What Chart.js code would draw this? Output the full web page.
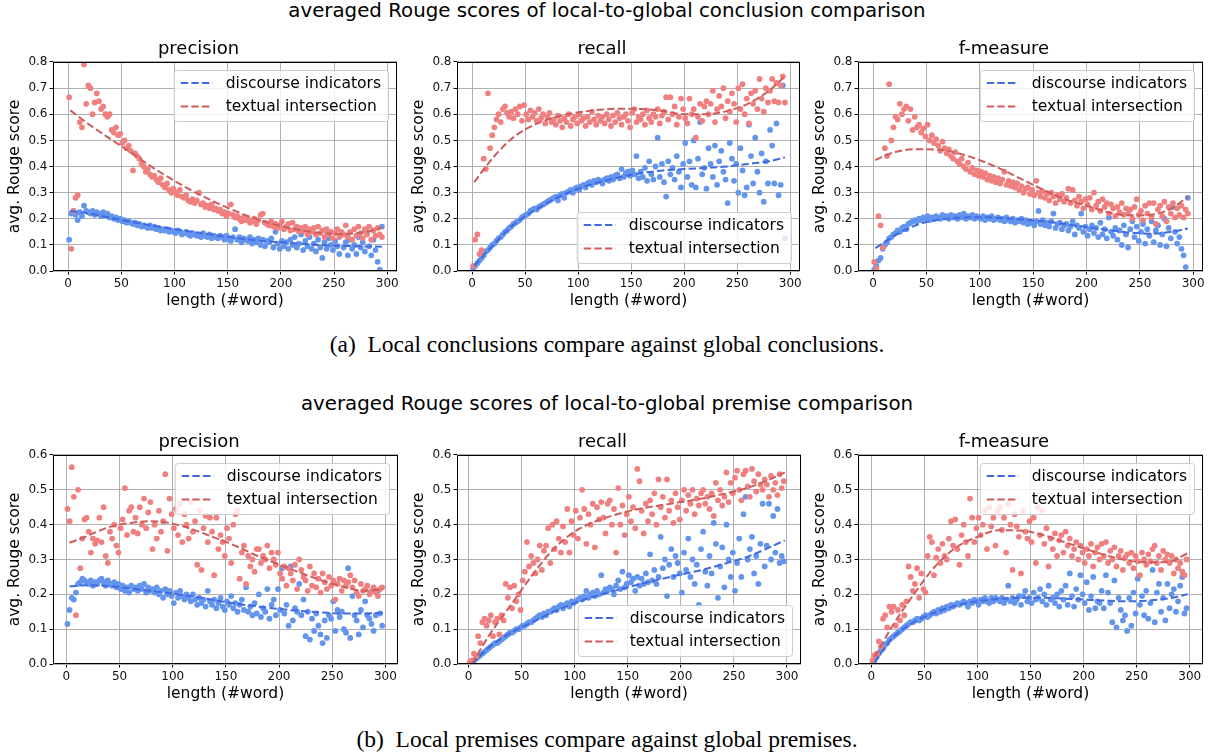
<!DOCTYPE html>
<html>
<head>
<meta charset="utf-8">
<script src="https://cdn.jsdelivr.net/npm/chart.js@4/dist/chart.umd.min.js"></script>
<style>
body { margin: 0; background: #fff; }
#fig { position: relative; width: 1214px; height: 754px; overflow: hidden; font-family: 'DejaVu Sans', sans-serif; color: #000; }
.sup { position: absolute; left: 0; width: 1214px; text-align: center; font-size: 19.8px; line-height: 24px; white-space: nowrap; }
.cap { position: absolute; left: 0; width: 1214px; text-align: center; font-family: 'Liberation Serif', serif; font-size: 23.5px; line-height: 28px; white-space: nowrap; }
canvas { position: absolute; }
</style>
</head>
<body>
<div id="fig">
  <div class="sup" style="top:-1px">averaged Rouge scores of local-to-global conclusion comparison</div>
  <canvas id="c0"></canvas>
  <canvas id="c1"></canvas>
  <canvas id="c2"></canvas>
  <div class="cap" style="top:330px">(a)&nbsp; Local conclusions compare against global conclusions.</div>
  <div class="sup" style="top:392px">averaged Rouge scores of local-to-global premise comparison</div>
  <canvas id="c3"></canvas>
  <canvas id="c4"></canvas>
  <canvas id="c5"></canvas>
  <div class="cap" style="top:725px">(b)&nbsp; Local premises compare against global premises.</div>
</div>
<script>
// 文の長さ (#word)
const lengths = [
  1,3,5,7,9,11,13,15,17,19,
  21,23,25,27,29,31,33,35,37,39,
  41,43,45,47,49,51,53,55,57,59,
  61,63,65,67,69,71,73,75,77,79,
  81,83,85,87,89,91,93,95,97,99,
  101,103,105,107,109,111,113,115,117,119,
  121,123,125,127,129,131,133,135,137,139,
  141,143,145,147,149,151,153,155,157,159,
  161,163,165,167,169,171,173,175,177,179,
  181,183,185,187,189,191,193,195,197,199,
  201,203,205,207,209,211,213,215,217,219,
  221,223,225,227,229,231,233,235,237,239,
  241,243,245,247,249,251,253,255,257,259,
  261,263,265,267,269,271,273,275,277,279,
  281,283,285,287,289,291,293,295,297
];

// (a) conclusion
const precConcDisc = [
  0.12,0.22,0.23,0.215,0.195,0.225,0.21,0.25,0.23,0.225,
  0.22,0.23,0.215,0.225,0.22,0.21,0.225,0.215,0.22,0.205,
  0.21,0.20,0.205,0.195,0.20,0.19,0.195,0.185,0.19,0.185,
  0.18,0.185,0.175,0.18,0.17,0.175,0.17,0.165,0.175,0.165,
  0.17,0.16,0.165,0.155,0.16,0.155,0.16,0.15,0.155,0.15,
  0.145,0.155,0.15,0.14,0.145,0.15,0.14,0.135,0.145,0.14,
  0.135,0.14,0.13,0.145,0.135,0.13,0.14,0.125,0.135,0.13,
  0.125,0.135,0.13,0.12,0.135,0.125,0.115,0.13,0.16,0.12,
  0.13,0.11,0.125,0.12,0.115,0.13,0.105,0.12,0.11,0.125,
  0.10,0.12,0.095,0.115,0.11,0.125,0.09,0.15,0.105,0.085,
  0.115,0.095,0.11,0.085,0.12,0.10,0.13,0.09,0.105,0.14,
  0.08,0.115,0.095,0.13,0.085,0.105,0.075,0.12,0.09,0.05,
  0.11,0.085,0.125,0.10,0.08,0.115,0.095,0.065,0.14,0.09,
  0.11,0.06,0.12,0.085,0.10,0.065,0.13,0.09,0.11,0.075,
  0.15,0.095,0.06,0.12,0.08,0.035,0.005,0.17,null
];
const precConcText = [
  0.665,0.085,0.23,0.28,0.29,0.57,0.55,0.79,0.64,0.71,
  0.70,0.60,0.645,0.68,0.65,0.62,0.63,0.60,0.59,0.60,
  0.54,0.53,0.55,0.52,0.525,0.49,0.50,0.47,0.48,0.46,
  0.385,0.45,0.44,0.43,0.41,0.40,0.38,0.39,0.37,0.36,
  0.365,0.35,0.34,0.355,0.33,0.32,0.335,0.31,0.30,0.315,
  0.30,0.29,0.31,0.285,0.28,0.29,0.27,0.265,0.275,0.26,
  0.27,0.30,0.255,0.26,0.245,0.25,0.24,0.255,0.235,0.24,
  0.23,0.235,0.22,0.225,0.21,0.22,0.255,0.215,0.205,0.21,
  0.20,0.19,0.205,0.195,0.20,0.185,0.19,0.20,0.18,0.195,
  0.215,0.22,0.185,0.18,0.175,0.19,0.17,0.18,0.165,0.175,
  0.19,0.16,0.17,0.18,0.155,0.185,0.16,0.17,0.15,0.165,
  0.155,0.17,0.14,0.16,0.15,0.165,0.14,0.17,0.145,0.155,
  0.13,0.16,0.14,0.15,0.125,0.145,0.16,0.13,0.15,0.14,
  0.175,0.13,0.15,0.12,0.16,0.135,0.17,0.145,0.125,0.16,
  0.14,0.17,0.12,0.155,0.135,0.165,0.14,0.13,null
];
const recConcDisc = [
  0.01,0.02,0.03,0.04,0.05,0.06,0.075,0.08,0.09,0.10,
  0.105,0.115,0.125,0.13,0.14,0.15,0.155,0.165,0.17,0.18,
  0.185,0.19,0.195,0.205,0.21,0.215,0.22,0.23,0.235,0.24,
  0.235,0.245,0.25,0.255,0.26,0.265,0.27,0.275,0.28,0.285,
  0.27,0.29,0.295,0.28,0.30,0.305,0.31,0.30,0.315,0.32,
  0.31,0.325,0.33,0.32,0.335,0.34,0.33,0.345,0.34,0.35,
  0.345,0.335,0.35,0.355,0.345,0.36,0.35,0.365,0.37,0.355,
  0.39,0.36,0.375,0.38,0.365,0.385,0.37,0.44,0.355,0.38,
  0.36,0.395,0.345,0.42,0.37,0.35,0.40,0.51,0.36,0.41,
  0.34,0.285,0.42,0.37,0.395,0.35,0.44,0.38,0.32,0.41,
  0.49,0.36,0.42,0.33,0.50,0.32,0.43,0.57,0.37,0.395,
  0.315,0.47,0.41,0.36,0.48,0.33,0.42,0.46,0.38,0.35,
  0.26,0.49,0.43,0.345,0.41,0.30,0.47,0.385,0.29,0.32,
  0.56,0.44,0.335,0.51,0.38,0.30,0.45,0.265,0.42,0.335,
  0.54,0.48,0.335,0.565,0.29,0.33,0.71,0.125,null
];
const recConcText = [
  0.02,0.12,0.14,0.065,0.08,0.43,0.39,0.68,0.47,0.52,
  0.55,0.58,0.60,0.57,0.62,0.63,0.605,0.59,0.61,0.585,
  0.62,0.60,0.63,0.575,0.635,0.60,0.58,0.615,0.59,0.605,
  0.575,0.62,0.585,0.60,0.565,0.59,0.605,0.57,0.58,0.56,
  0.595,0.575,0.55,0.585,0.57,0.60,0.555,0.58,0.59,0.565,
  0.60,0.575,0.585,0.555,0.59,0.57,0.61,0.58,0.56,0.595,
  0.575,0.59,0.565,0.60,0.58,0.555,0.595,0.57,0.605,0.585,
  0.56,0.59,0.60,0.575,0.55,0.605,0.62,0.57,0.59,0.58,
  0.60,0.56,0.615,0.585,0.57,0.60,0.59,0.62,0.565,0.595,
  0.61,0.665,0.58,0.665,0.60,0.63,0.56,0.59,0.66,0.62,
  0.585,0.565,0.66,0.60,0.62,0.51,0.59,0.64,0.575,0.63,
  0.65,0.60,0.64,0.69,0.57,0.62,0.67,0.63,0.70,0.585,
  0.65,0.61,0.68,0.64,0.57,0.70,0.62,0.715,0.60,0.66,
  0.565,0.68,0.64,0.69,0.62,0.735,0.66,0.61,0.70,0.645,
  0.69,0.735,0.65,0.72,0.645,0.71,0.745,0.645,null
];
const fConcDisc = [
  0.005,0.02,0.04,0.05,0.085,0.10,0.11,0.125,0.13,0.14,
  0.145,0.155,0.15,0.165,0.17,0.16,0.18,0.185,0.19,0.195,
  0.19,0.20,0.195,0.205,0.20,0.21,0.195,0.205,0.20,0.21,
  0.205,0.20,0.215,0.205,0.21,0.20,0.215,0.205,0.21,0.20,
  0.215,0.205,0.22,0.20,0.21,0.205,0.215,0.20,0.21,0.205,
  0.20,0.21,0.195,0.205,0.20,0.21,0.195,0.20,0.205,0.195,
  0.20,0.19,0.205,0.195,0.19,0.20,0.185,0.195,0.19,0.20,
  0.185,0.195,0.18,0.19,0.185,0.175,0.19,0.23,0.18,0.195,
  0.175,0.185,0.17,0.19,0.22,0.165,0.18,0.185,0.16,0.175,
  0.18,0.155,0.17,0.19,0.14,0.175,0.165,0.22,0.15,0.17,
  0.135,0.16,0.175,0.145,0.165,0.13,0.185,0.14,0.16,0.125,
  0.205,0.15,0.135,0.165,0.12,0.155,0.10,0.175,0.14,0.09,
  0.16,0.19,0.13,0.17,0.115,0.15,0.18,0.105,0.16,0.135,
  0.19,0.11,0.155,0.175,0.10,0.14,0.20,0.095,0.165,0.125,
  0.245,0.15,0.105,0.13,0.085,0.06,0.015,0.28,null
];
const fConcText = [
  0.035,0.01,0.21,0.175,0.09,0.47,0.44,0.715,0.50,0.55,
  0.59,0.58,0.64,0.60,0.62,0.63,0.575,0.62,0.54,0.59,
  0.55,0.56,0.53,0.545,0.515,0.56,0.50,0.52,0.49,0.505,
  0.48,0.46,0.495,0.47,0.45,0.465,0.44,0.43,0.455,0.42,
  0.41,0.43,0.40,0.39,0.415,0.38,0.395,0.37,0.385,0.365,
  0.38,0.36,0.375,0.35,0.365,0.345,0.36,0.34,0.355,0.335,
  0.35,0.38,0.33,0.345,0.325,0.34,0.32,0.335,0.31,0.325,
  0.30,0.315,0.32,0.295,0.31,0.29,0.345,0.30,0.285,0.305,
  0.28,0.295,0.27,0.30,0.285,0.26,0.29,0.275,0.295,0.265,
  0.28,0.315,0.26,0.31,0.27,0.25,0.285,0.265,0.24,0.275,
  0.255,0.28,0.235,0.30,0.25,0.265,0.23,0.275,0.245,0.26,
  0.22,0.255,0.24,0.21,0.245,0.225,0.26,0.215,0.24,0.22,
  0.235,0.20,0.245,0.275,0.215,0.23,0.195,0.25,0.22,0.26,
  0.205,0.26,0.18,0.235,0.25,0.21,0.265,0.19,0.245,0.22,
  0.26,0.205,0.24,0.215,0.25,0.205,0.235,0.22,null
];

// (b) premise
const precPremDisc = [
  0.115,0.155,0.19,0.185,0.205,0.23,0.235,0.245,0.24,0.235,
  0.23,0.24,0.225,0.235,0.23,0.24,0.245,0.235,0.225,0.24,
  0.23,0.225,0.235,0.22,0.23,0.215,0.225,0.21,0.22,0.205,
  0.225,0.215,0.22,0.21,0.225,0.215,0.23,0.205,0.22,0.21,
  0.215,0.205,0.22,0.20,0.21,0.19,0.215,0.20,0.21,0.195,
  0.175,0.205,0.19,0.21,0.195,0.185,0.20,0.19,0.18,0.20,
  0.185,0.17,0.19,0.175,0.185,0.165,0.21,0.18,0.17,0.185,
  0.16,0.175,0.19,0.165,0.155,0.18,0.17,0.195,0.16,0.175,
  0.15,0.17,0.185,0.155,0.22,0.15,0.165,0.14,0.175,0.145,
  0.20,0.135,0.16,0.15,0.215,0.13,0.17,0.185,0.14,0.215,
  0.155,0.275,0.145,0.17,0.11,0.28,0.125,0.16,0.15,0.23,
  0.14,0.185,0.08,0.15,0.07,0.13,0.095,0.145,0.11,0.085,
  0.06,0.125,0.075,0.14,0.13,0.18,0.095,0.155,0.135,0.15,
  0.10,0.09,0.275,0.075,0.195,0.14,0.125,0.085,0.155,0.105,
  0.18,0.14,0.13,0.115,0.095,0.14,0.21,0.145,0.11
];
const precPremText = [
  0.445,0.41,0.565,0.48,0.14,0.50,0.275,0.36,0.415,0.42,
  0.38,0.32,0.36,0.345,0.355,0.42,0.35,0.45,0.31,0.29,
  0.38,0.36,0.40,0.34,0.32,0.39,0.415,0.505,0.37,0.44,
  0.45,0.38,0.42,0.375,0.45,0.40,0.475,0.39,0.435,0.465,
  0.33,0.40,0.36,0.44,0.38,0.41,0.545,0.325,0.475,0.43,
  0.39,0.445,0.37,0.46,0.35,0.43,0.40,0.36,0.465,0.38,
  0.41,0.285,0.44,0.27,0.39,0.425,0.35,0.42,0.38,0.255,
  0.42,0.33,0.37,0.35,0.31,0.39,0.36,0.29,0.40,0.43,
  0.44,0.245,0.32,0.34,0.23,0.31,0.28,0.30,0.265,0.33,
  0.33,0.29,0.31,0.30,0.34,0.275,0.32,0.30,0.285,0.32,
  0.26,0.245,0.28,0.225,0.275,0.26,0.24,0.285,0.215,0.30,
  0.27,0.25,0.24,0.21,0.28,0.225,0.26,0.22,0.245,0.205,
  0.26,0.235,0.215,0.25,0.225,0.24,0.185,0.23,0.245,0.21,
  0.24,0.225,0.235,0.255,0.22,0.24,0.205,0.195,0.23,0.21,
  0.215,0.225,0.20,0.21,0.22,0.205,0.195,0.215,0.22
];
const recPremDisc = [
  0.0,0.005,0.01,0.015,0.02,0.025,0.03,0.035,0.04,0.045,
  0.05,0.055,0.06,0.06,0.065,0.07,0.075,0.08,0.085,0.09,
  0.09,0.095,0.10,0.10,0.105,0.11,0.11,0.115,0.12,0.12,
  0.125,0.13,0.135,0.14,0.135,0.145,0.14,0.15,0.15,0.155,
  0.16,0.155,0.165,0.17,0.16,0.17,0.175,0.165,0.18,0.175,
  0.18,0.185,0.19,0.185,0.195,0.21,0.19,0.20,0.205,0.195,
  0.21,0.20,0.255,0.205,0.215,0.21,0.22,0.215,0.20,0.225,
  0.24,0.215,0.265,0.22,0.23,0.255,0.235,0.245,0.21,0.25,
  0.225,0.245,0.23,0.26,0.235,0.315,0.24,0.27,0.23,0.25,
  0.365,0.275,0.30,0.195,0.285,0.33,0.25,0.31,0.29,0.26,
  0.205,0.32,0.27,0.36,0.25,0.30,0.23,0.285,0.17,0.33,
  0.38,0.265,0.225,0.31,0.26,0.405,0.345,0.19,0.28,0.335,
  0.22,0.40,0.30,0.25,0.32,0.21,0.29,0.36,0.25,0.43,
  0.48,0.30,0.33,0.365,0.26,0.31,0.23,0.345,0.46,0.28,
  0.34,0.46,0.30,0.425,0.32,0.445,0.29,0.31,0.295
];
const recPremText = [
  0.005,0.01,0.03,0.02,0.08,0.06,0.12,0.13,0.11,0.125,
  0.14,0.08,0.12,0.13,0.085,0.14,0.125,0.23,0.19,0.22,
  0.16,0.225,0.18,0.20,0.155,0.24,0.265,0.35,0.28,0.31,
  0.29,0.26,0.30,0.34,0.27,0.325,0.34,0.39,0.29,0.40,
  0.33,0.41,0.36,0.32,0.395,0.35,0.445,0.32,0.41,0.37,
  0.44,0.36,0.42,0.50,0.445,0.345,0.43,0.40,0.46,0.335,
  0.45,0.415,0.465,0.42,0.375,0.46,0.47,0.40,0.445,0.32,
  0.505,0.40,0.455,0.37,0.43,0.48,0.41,0.45,0.39,0.56,
  0.525,0.44,0.375,0.46,0.41,0.47,0.43,0.49,0.40,0.53,
  0.45,0.48,0.42,0.53,0.44,0.47,0.405,0.49,0.45,0.415,
  0.47,0.50,0.44,0.485,0.46,0.50,0.43,0.475,0.455,0.49,
  0.50,0.46,0.48,0.445,0.49,0.425,0.52,0.47,0.50,0.455,
  0.48,0.55,0.465,0.52,0.49,0.535,0.555,0.50,0.47,0.545,
  0.555,0.51,0.48,0.56,0.525,0.495,0.545,0.515,0.50,0.53,
  0.515,0.48,0.54,0.50,0.52,0.485,0.545,0.505,0.525
];
const fPremDisc = [
  0.0,0.01,0.02,0.03,0.04,0.045,0.055,0.06,0.07,0.075,
  0.08,0.085,0.09,0.095,0.10,0.105,0.11,0.115,0.12,0.12,
  0.125,0.13,0.125,0.13,0.135,0.14,0.135,0.14,0.145,0.15,
  0.145,0.155,0.15,0.16,0.155,0.165,0.16,0.17,0.165,0.17,
  0.175,0.17,0.175,0.18,0.175,0.165,0.18,0.175,0.185,0.18,
  0.17,0.185,0.18,0.19,0.18,0.175,0.19,0.18,0.19,0.185,
  0.18,0.19,0.175,0.185,0.225,0.18,0.19,0.175,0.185,0.195,
  0.17,0.195,0.21,0.18,0.19,0.175,0.205,0.185,0.19,0.215,
  0.18,0.20,0.17,0.225,0.185,0.19,0.175,0.20,0.165,0.21,
  0.185,0.225,0.17,0.26,0.195,0.165,0.215,0.185,0.255,0.20,
  0.175,0.235,0.155,0.195,0.25,0.16,0.18,0.175,0.21,0.16,
  0.255,0.205,0.175,0.12,0.24,0.105,0.19,0.155,0.125,0.14,
  0.095,0.19,0.11,0.205,0.145,0.245,0.17,0.195,0.14,0.21,
  0.13,0.175,0.27,0.12,0.205,0.23,0.15,0.19,0.125,0.23,
  0.16,0.20,0.215,0.15,0.18,0.225,0.25,0.145,0.16
];
const fPremText = [
  0.01,0.025,0.03,0.065,0.05,0.13,0.14,0.105,0.165,0.15,
  0.165,0.11,0.155,0.125,0.17,0.14,0.18,0.28,0.25,0.21,
  0.23,0.275,0.19,0.26,0.215,0.205,0.31,0.365,0.35,0.255,
  0.305,0.33,0.29,0.345,0.31,0.30,0.36,0.41,0.34,0.415,
  0.33,0.285,0.37,0.40,0.35,0.31,0.475,0.42,0.35,0.39,
  0.42,0.37,0.40,0.44,0.33,0.45,0.395,0.42,0.34,0.44,
  0.45,0.385,0.42,0.32,0.46,0.40,0.27,0.43,0.395,0.365,
  0.26,0.44,0.38,0.36,0.41,0.35,0.42,0.29,0.45,0.37,
  0.44,0.345,0.39,0.28,0.36,0.33,0.375,0.31,0.355,0.37,
  0.32,0.38,0.34,0.36,0.31,0.33,0.35,0.30,0.34,0.32,
  0.29,0.33,0.31,0.345,0.28,0.32,0.335,0.30,0.345,0.31,
  0.35,0.29,0.325,0.30,0.335,0.28,0.31,0.325,0.27,0.305,
  0.315,0.29,0.32,0.275,0.31,0.295,0.255,0.32,0.30,0.285,
  0.315,0.295,0.33,0.34,0.29,0.31,0.27,0.325,0.30,0.315,
  0.29,0.31,0.26,0.30,0.275,0.29,0.265,0.255,0.30
];

// 近似曲線
const fitXConc = [2,20,40,60,80,100,120,140,160,180,200,220,240,260,280,295];
const precConcDiscFit = [0.23,0.22,0.203,0.188,0.173,0.16,0.148,0.136,0.125,0.116,0.11,0.104,0.099,0.096,0.094,0.093];
const precConcTextFit = [0.615,0.56,0.505,0.45,0.395,0.345,0.30,0.26,0.225,0.195,0.172,0.155,0.145,0.142,0.15,0.165];
const recConcDiscFit = [0.02,0.10,0.18,0.235,0.28,0.315,0.34,0.36,0.375,0.385,0.39,0.395,0.40,0.41,0.42,0.435];
const recConcTextFit = [0.34,0.435,0.515,0.562,0.59,0.607,0.617,0.621,0.62,0.612,0.60,0.60,0.612,0.64,0.69,0.745];
const fConcDiscFit = [0.087,0.135,0.175,0.195,0.204,0.206,0.203,0.197,0.19,0.18,0.168,0.157,0.147,0.143,0.15,0.163];
const fConcTextFit = [0.425,0.455,0.466,0.465,0.45,0.424,0.39,0.35,0.31,0.275,0.25,0.225,0.213,0.215,0.24,0.285];

const fitXPrem = [3,20,40,60,80,100,120,140,160,180,200,220,240,260,280,298];
const precPremDiscFit = [0.223,0.226,0.224,0.217,0.21,0.202,0.193,0.183,0.173,0.165,0.158,0.152,0.148,0.145,0.145,0.147];
const precPremTextFit = [0.348,0.368,0.393,0.405,0.41,0.403,0.385,0.362,0.338,0.31,0.285,0.262,0.24,0.222,0.21,0.215];
const recPremDiscFit = [0.0,0.05,0.09,0.12,0.15,0.175,0.195,0.212,0.228,0.243,0.257,0.27,0.287,0.305,0.33,0.355];
const recPremTextFit = [0.0,0.085,0.17,0.255,0.33,0.38,0.41,0.43,0.445,0.455,0.465,0.475,0.488,0.503,0.525,0.55];
const fPremDiscFit = [0.005,0.075,0.12,0.148,0.168,0.18,0.187,0.19,0.19,0.188,0.185,0.182,0.18,0.182,0.188,0.2];
const fPremTextFit = [0.02,0.11,0.2,0.28,0.335,0.365,0.384,0.383,0.372,0.352,0.332,0.313,0.298,0.292,0.293,0.318];

const xTicks = [0,50,100,150,200,250,300];
const yTicksConc = [0,0.1,0.2,0.3,0.4,0.5,0.6,0.7,0.8];
const yTicksPrem = [0,0.1,0.2,0.3,0.4,0.5,0.6];
const seriesNames = ['discourse indicators', 'textual intersection'];

const panels = [
  {id:'c0', title:'precision', disc:precConcDisc, text:precConcText, fitX:fitXConc, discFit:precConcDiscFit, textFit:precConcTextFit, yTicks:yTicksConc, corner:'top'},
  {id:'c1', title:'recall', disc:recConcDisc, text:recConcText, fitX:fitXConc, discFit:recConcDiscFit, textFit:recConcTextFit, yTicks:yTicksConc, corner:'bottom'},
  {id:'c2', title:'f-measure', disc:fConcDisc, text:fConcText, fitX:fitXConc, discFit:fConcDiscFit, textFit:fConcTextFit, yTicks:yTicksConc, corner:'top'},
  {id:'c3', title:'precision', disc:precPremDisc, text:precPremText, fitX:fitXPrem, discFit:precPremDiscFit, textFit:precPremTextFit, yTicks:yTicksPrem, corner:'top'},
  {id:'c4', title:'recall', disc:recPremDisc, text:recPremText, fitX:fitXPrem, discFit:recPremDiscFit, textFit:recPremTextFit, yTicks:yTicksPrem, corner:'bottom'},
  {id:'c5', title:'f-measure', disc:fPremDisc, text:fPremText, fitX:fitXPrem, discFit:fPremDiscFit, textFit:fPremTextFit, yTicks:yTicksPrem, corner:'top'}
];

// プロット領域の位置 (px)
const boxes = [
  {left:53, top:62, w:344, h:209, xMin:-14.2, xMax:309.2},
  {left:457, top:62, w:343, h:209, xMin:-14.2, xMax:309.2},
  {left:858, top:62, w:345, h:209, xMin:-14.2, xMax:309.2},
  {left:53, top:455, w:345, h:209, xMin:-12.6, xMax:311.9},
  {left:457, top:455, w:344, h:209, xMin:-10.9, xMax:313.2},
  {left:858, top:455, w:345, h:209, xMin:-12.6, xMax:312.5}
];

const BLUE_PT = '#6495ED', RED_PT = '#F08080';
const BLUE_LN = '#4169E1', RED_LN = '#CD5C5C';

Chart.defaults.font.family = "'DejaVu Sans', sans-serif";
Chart.defaults.color = '#000';

// 枠線と凡例 (matplotlib風)
const frameLegend = {
  id: 'frameLegend',
  afterDatasetsDraw(chart, args, opts) {
    const ctx = chart.ctx;
    const a = chart.chartArea;
    ctx.save();
    ctx.strokeStyle = '#000';
    ctx.lineWidth = 1;
    const l = Math.round(a.left) + 0.5, t = Math.round(a.top) + 0.5;
    const r = Math.round(a.right) - 0.5, b = Math.round(a.bottom) - 0.5;
    ctx.strokeRect(l, t, r - l, b - t);

    const items = chart.data.datasets.filter(d => d.legendRank !== undefined)
      .sort((p, q) => p.legendRank - q.legendRank);
    ctx.font = "15.5px 'DejaVu Sans'";
    const tw = Math.max(...items.map(d => ctx.measureText(d.label).width));
    const w = 52 + tw + 7, h = 51;
    const x = a.right - 9 - w;
    const y = opts.corner === 'bottom' ? a.bottom - 8 - h : a.top + 8;
    ctx.beginPath();
    ctx.roundRect(x + 0.5, y + 0.5, w, h, 3);
    ctx.fillStyle = 'rgba(255,255,255,0.8)';
    ctx.fill();
    ctx.strokeStyle = '#cccccc';
    ctx.stroke();
    items.forEach((d, i) => {
      const cy = y + 13 + i * 23.5;
      ctx.beginPath();
      ctx.setLineDash([7.4, 3.2]);
      ctx.strokeStyle = d.borderColor;
      ctx.lineWidth = 2;
      ctx.moveTo(x + 7, cy);
      ctx.lineTo(x + 39, cy);
      ctx.stroke();
      ctx.setLineDash([]);
      ctx.fillStyle = '#000';
      ctx.textBaseline = 'middle';
      ctx.fillText(d.label, x + 52, cy + 0.5);
    });
    ctx.restore();
  }
};

function drawPanel(p, box) {
  const canvas = document.getElementById(p.id);
  const yAxisW = 53, titleH = 24, xAxisH = 42, padR = 11;
  canvas.width = yAxisW + box.w + padR;
  canvas.height = titleH + box.h + xAxisH;
  canvas.style.left = (box.left - yAxisW) + 'px';
  canvas.style.top = (box.top - titleH) + 'px';

  const pts = arr => lengths.map((x, i) => ({x: x, y: arr[i]})).filter(d => d.y !== null);
  const fit = arr => p.fitX.map((x, i) => ({x: x, y: arr[i]}));
  const lineStyle = {
    showLine: true, pointRadius: 0, borderWidth: 2, borderDash: [7.4, 3.2],
    cubicInterpolationMode: 'monotone', fill: false
  };

  new Chart(canvas, {
    type: 'scatter',
    data: {
      datasets: [
        Object.assign({label: seriesNames[1], legendRank: 1, data: fit(p.textFit), borderColor: RED_LN}, lineStyle),
        Object.assign({label: seriesNames[0], legendRank: 0, data: fit(p.discFit), borderColor: BLUE_LN}, lineStyle),
        {label: seriesNames[1] + ' pts', data: pts(p.text), backgroundColor: RED_PT, borderWidth: 0, pointRadius: 2.9},
        {label: seriesNames[0] + ' pts', data: pts(p.disc), backgroundColor: BLUE_PT, borderWidth: 0, pointRadius: 2.9}
      ]
    },
    options: {
      responsive: false,
      animation: false,
      layout: {padding: {left: 0, right: padR, top: 0, bottom: 0}},
      plugins: {
        legend: {display: false},
        tooltip: {enabled: false},
        title: {
          display: true, text: p.title, color: '#000',
          font: {size: 18, weight: 'normal'},
          padding: {top: 0.4, bottom: 2}
        },
        frameLegend: {corner: p.corner}
      },
      scales: {
        x: {
          type: 'linear', min: box.xMin, max: box.xMax,
          afterBuildTicks: s => { s.ticks = xTicks.map(v => ({value: v})); },
          afterFit: s => { s.height = xAxisH; },
          ticks: {font: {size: 12}, color: '#111', padding: 2, maxRotation: 0},
          grid: {color: '#b0b0b0', lineWidth: 1, tickLength: 3.5, tickColor: '#000'},
          border: {display: false},
          title: {display: true, text: 'length (#word)', font: {size: 15.5}, color: '#000', padding: {top: 0, bottom: 2.7}}
        },
        y: {
          type: 'linear', min: 0, max: p.yTicks[p.yTicks.length - 1],
          afterBuildTicks: s => { s.ticks = p.yTicks.map(v => ({value: v})); },
          afterFit: s => { s.width = yAxisW; },
          ticks: {font: {size: 12}, color: '#111', padding: 2, callback: v => v.toFixed(1)},
          grid: {color: '#b0b0b0', lineWidth: 1, tickLength: 3.5, tickColor: '#000'},
          border: {display: false},
          title: {display: true, text: 'avg. Rouge score', font: {size: 15.5}, color: '#000', padding: {top: 6, bottom: 0}}
        }
      }
    },
    plugins: [frameLegend]
  });
}

panels.forEach((p, i) => drawPanel(p, boxes[i]));
</script>
</body>
</html>
